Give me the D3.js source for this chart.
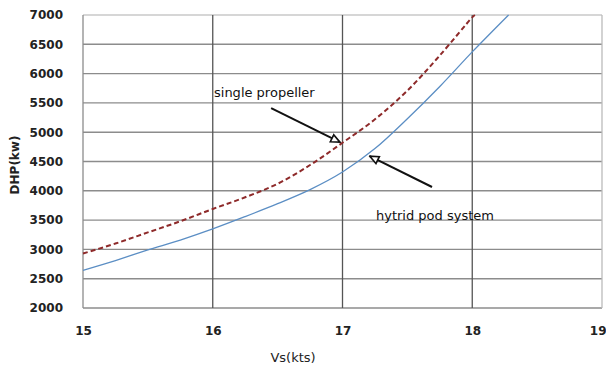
<!DOCTYPE html>
<html><head><meta charset="utf-8">
<script src="https://cdn.jsdelivr.net/npm/d3@7"></script>
<style>html,body{margin:0;padding:0;background:#fff;}svg{display:block;}</style>
</head><body>
<svg id="c" width="606" height="367"></svg>
<script>
const speeds = [15, 15.25, 15.5, 15.75, 16, 16.25, 16.5, 16.75, 17, 17.25, 17.5, 17.75, 18, 18.02];
const singlePropeller = [2930, 3100, 3290, 3480, 3690, 3890, 4120, 4440, 4820, 5220, 5710, 6310, 6960, 7000];
const hybridSpeeds = [15, 15.25, 15.5, 15.75, 16, 16.25, 16.5, 16.75, 17, 17.25, 17.5, 17.75, 18, 18.28];
const hybridPod = [2640, 2810, 2990, 3160, 3350, 3560, 3780, 4020, 4320, 4720, 5230, 5780, 6370, 7000];
const xTicks = [15, 16, 17, 18, 19];
const yTicks = [2000, 2500, 3000, 3500, 4000, 4500, 5000, 5500, 6000, 6500, 7000];

const svg = d3.select("#c");
const x = d3.scaleLinear().domain([15, 19]).range([83, 602]);
const y = d3.scaleLinear().domain([2000, 7000]).range([308, 15]);
const font = "'DejaVu Sans', sans-serif";

// horizontal gridlines
svg.append("g").selectAll("line").data(yTicks).join("line")
  .attr("x1", x(15)).attr("x2", x(19))
  .attr("y1", d => y(d)).attr("y2", d => y(d))
  .attr("stroke", d => d === 7000 ? "#c8c8c8" : "#8c8c8c")
  .attr("stroke-width", 1.4);
// vertical gridlines
svg.append("g").selectAll("line").data(xTicks).join("line")
  .attr("x1", d => x(d)).attr("x2", d => x(d))
  .attr("y1", y(7000)).attr("y2", y(2000))
  .attr("stroke", d => d === 15 ? "#8c8c8c" : (d === 19 ? "#bbbbbb" : "#555"))
  .attr("stroke-width", 1.3);

// y axis labels
const yAxis = d3.axisLeft(y).tickValues(yTicks).tickSize(0).tickPadding(20).tickFormat(d3.format("d"));
const gy = svg.append("g").attr("transform", `translate(${x(15)},0)`).call(yAxis);
gy.select(".domain").remove();
gy.selectAll("text").attr("font-family", font).attr("font-weight", "bold")
  .attr("font-size", 12).attr("fill", "#222");

// x axis labels
const xAxis = d3.axisBottom(x).tickValues(xTicks).tickSize(0).tickPadding(18).tickFormat(d3.format("d"));
const gx = svg.append("g").attr("transform", `translate(0,${y(2000)})`).call(xAxis);
gx.select(".domain").remove();
gx.selectAll("text").attr("font-family", font).attr("font-weight", "bold")
  .attr("font-size", 12).attr("fill", "#222");
gx.selectAll(".tick").filter(d => d === 19).select("text").attr("text-anchor", "end").attr("dx", 4);

// axis titles
svg.append("text").attr("transform", "translate(19,165) rotate(-90)")
  .attr("text-anchor", "middle").attr("font-family", font).attr("font-size", 12)
  .attr("font-weight", "bold").attr("fill", "#222").text("DHP(kw)");
svg.append("text").attr("x", 293).attr("y", 362)
  .attr("text-anchor", "middle").attr("font-family", font).attr("font-size", 13)
  .attr("fill", "#222").text("Vs(kts)");

const line = d3.line().x(d => x(d[0])).y(d => y(d[1])).curve(d3.curveCatmullRom.alpha(0.5));

svg.append("path").datum(hybridSpeeds.map((s, i) => [s, hybridPod[i]]))
  .attr("d", line).attr("fill", "none").attr("stroke", "#5b8ec4").attr("stroke-width", 1.3);
svg.append("path").datum(speeds.map((s, i) => [s, singlePropeller[i]]))
  .attr("d", line).attr("fill", "none").attr("stroke", "#8e2a2a").attr("stroke-width", 2)
  .attr("stroke-dasharray", "5,3");

// arrowhead marker
const defs = svg.append("defs");
defs.append("marker").attr("id", "ah").attr("viewBox", "0 0 10 10")
  .attr("refX", 9).attr("refY", 5).attr("markerWidth", 11).attr("markerHeight", 11)
  .attr("orient", "auto").attr("markerUnits", "userSpaceOnUse")
  .append("path").attr("d", "M1,1.5 L9,5 L1,8.5 Z").attr("fill", "#fff")
  .attr("stroke", "#111").attr("stroke-width", 1.5);

// annotations
svg.append("text").attr("x", 214).attr("y", 97).attr("font-family", font)
  .attr("font-size", 13).attr("fill", "#111").text("single propeller");
svg.append("line").attr("x1", x(16.45)).attr("y1", y(5410)).attr("x2", x(16.98)).attr("y2", y(4830))
  .attr("stroke", "#111").attr("stroke-width", 2).attr("marker-end", "url(#ah)");
svg.append("text").attr("x", 376).attr("y", 220).attr("font-family", font)
  .attr("font-size", 13).attr("fill", "#111").text("hytrid pod system");
svg.append("line").attr("x1", x(17.69)).attr("y1", y(4065)).attr("x2", x(17.21)).attr("y2", y(4590))
  .attr("stroke", "#111").attr("stroke-width", 2).attr("marker-end", "url(#ah)");
</script>
</body></html>
